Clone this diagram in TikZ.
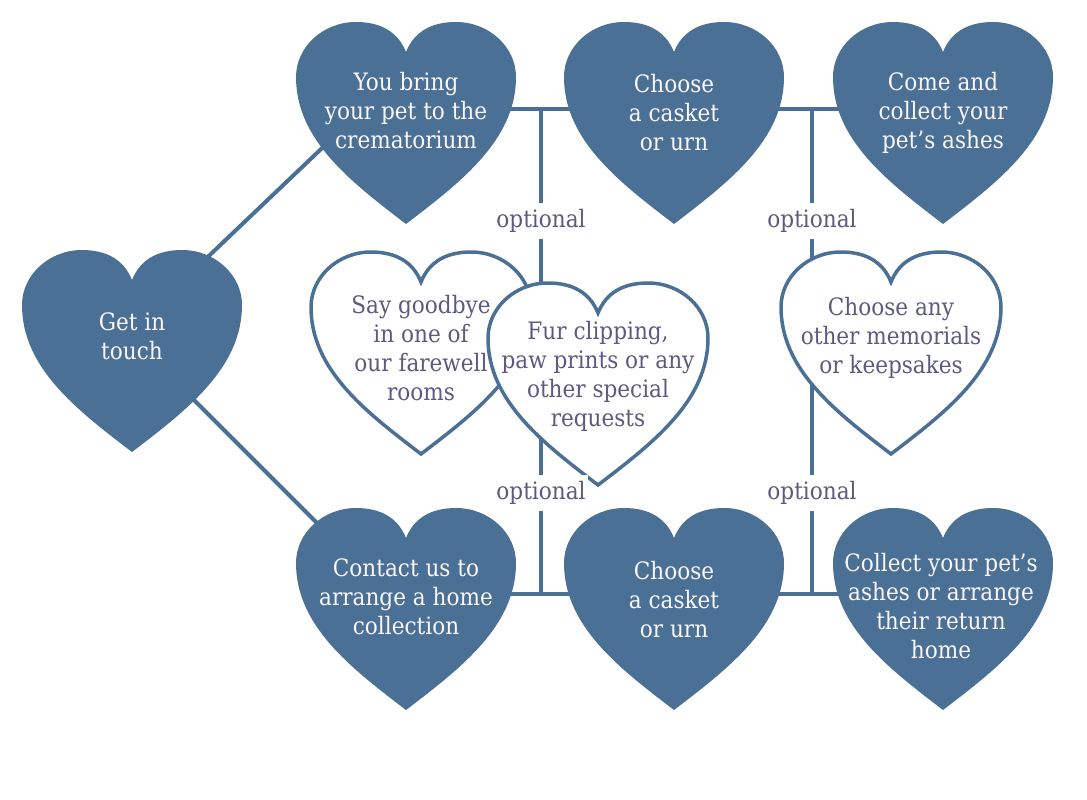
\documentclass[tikz,border=0pt]{standalone}
\usepackage{fontspec}
\setmainfont{DejaVu Serif Condensed}
\definecolor{hblue}{HTML}{4B7095}
\definecolor{htext}{HTML}{5C5A80}
\definecolor{hwhite}{HTML}{FBF7FA}
\tikzset{
  heart/.pic={\path[pic actions] (0,30) .. controls (-8,10) and (-25,0) .. (-50,0)
     .. controls (-83,0) and (-110,25) .. (-110,55)
     .. controls (-110,118) and (-55,160) .. (0,202)
     .. controls (55,160) and (110,118) .. (110,55)
     .. controls (110,25) and (83,0) .. (50,0)
     .. controls (25,0) and (8,10) .. (0,30) -- cycle;},
  solidheart/.style={fill=hblue},
  openheart/.style={fill=white, draw=hblue, line width=3.5pt},
  conn/.style={draw=hblue, line width=4pt},
  solidtext/.style={align=center, text=hwhite, font=\fontsize{24}{29}\selectfont, inner sep=0pt},
  opentext/.style={align=center, text=htext, font=\fontsize{24}{29}\selectfont, inner sep=0pt},
  optlabel/.style={fill=white, text=htext, font=\fontsize{24}{26}\selectfont, inner xsep=2pt, inner ysep=6pt}
}
\begin{document}
\begin{tikzpicture}[x=1pt, y=-1pt]
\useasboundingbox (0,0) rectangle (1087,800);
% junctions and line ends
\coordinate (j1) at (541,109);
\coordinate (j2) at (812,109);
\coordinate (j3) at (541,594);
\coordinate (j4) at (812,594);
\coordinate (gA) at (150,312);
\coordinate (h1A) at (340,131);
\coordinate (gB) at (160,366);
\coordinate (h4B) at (340,546);
\coordinate (c1) at (406,109);
\coordinate (c3) at (943,109);
\coordinate (c4) at (406,594);
\coordinate (c6) at (943,594);
% connectors
\draw[conn] (gA) -- (h1A);
\draw[conn] (gB) -- (h4B);
\draw[conn] (c1) -- (j1) -- (j2) -- (c3);
\draw[conn] (c4) -- (j3) -- (j4) -- (c6);
\draw[conn] (j1) -- (j3);
\draw[conn] (j2) -- (j4);
% solid hearts
\pic[solidheart] at (132,250) {heart};
\pic[solidheart] at (406,22) {heart};
\pic[solidheart] at (674,22) {heart};
\pic[solidheart] at (943,22) {heart};
\pic[solidheart] at (406,508) {heart};
\pic[solidheart] at (674,508) {heart};
\pic[solidheart] at (943,508) {heart};
% open hearts
\pic[openheart] at (421,252) {heart};
\pic[openheart] at (598,283) {heart};
\pic[openheart] at (891,252) {heart};
% texts
\node[solidtext] (g) at (132,336) {Get in\\touch};
\node[solidtext] (h1) at (406,111) {You bring\\your pet to the\\crematorium};
\node[solidtext] (h2) at (674,113) {Choose\\a casket\\or urn};
\node[solidtext] (h3) at (943,113) {Come and\\collect your\\pet’s ashes};
\node[solidtext] (h4) at (406,597) {Contact us to\\arrange a home\\collection};
\node[solidtext] (h5) at (674,600) {Choose\\a casket\\or urn};
\node[solidtext] (h6) at (941,606) {Collect your pet’s\\ashes or arrange\\their return\\home};
\node[opentext] (o1) at (421,348) {Say goodbye\\in one of\\our farewell\\rooms};
\node[opentext] (o2) at (598,376) {Fur clipping,\\paw prints or any\\other special\\requests};
\node[opentext] (o3) at (891,338) {Choose any\\other memorials\\or keepsakes};
% optional labels
\node[optlabel] (p1) at (541,221) {optional};
\node[optlabel] (p2) at (812,221) {optional};
\node[optlabel] (p3) at (541,493) {optional};
\node[optlabel] (p4) at (812,493) {optional};
\end{tikzpicture}
\end{document}
